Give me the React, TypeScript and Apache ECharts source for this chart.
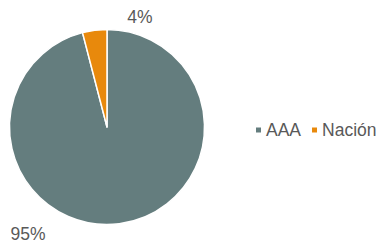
import React, { useEffect, useRef } from "react";
import * as echarts from "echarts";

const categories = ["AAA", "Nación"];
const values = [95, 4];
const colors = ["#647d7e", "#e8890c"];

const labelPos = [
  { x: 28, y: 234 },
  { x: 140, y: 17 },
];

export default function App() {
  const ref = useRef<HTMLDivElement>(null);
  useEffect(() => {
    const chart = echarts.init(ref.current!, null, { renderer: "svg" });
    chart.setOption({
      animation: false,
      legend: {
        data: categories,
        orient: "horizontal",
        left: 254,
        top: 121,
        width: 129,
        padding: 0,
        icon: "rect",
        itemWidth: 7,
        itemHeight: 7,
        itemGap: 9,
        textStyle: { fontSize: 17.5, color: "#595959", fontFamily: "Liberation Sans", padding: [0, 0, 0, -1] },
      },
      series: [
        {
          type: "pie",
          center: [107, 127],
          radius: 97.5,
          startAngle: 90,
          clockwise: true,
          itemStyle: { borderColor: "#ffffff", borderWidth: 1.5 },
          label: {
            show: true,
            position: "outside",
            formatter: "{c}%",
            fontSize: 17.5,
            color: "#595959",
            fontFamily: "Liberation Sans",
          },
          labelLine: { show: false },
          labelLayout: (p: any) => ({
            x: labelPos[p.dataIndex].x,
            y: labelPos[p.dataIndex].y,
            align: "center",
            verticalAlign: "middle",
          }),
          data: categories.map((name, i) => ({
            name,
            value: values[i],
            itemStyle: { color: colors[i] },
          })),
        },
      ],
    });
    return () => chart.dispose();
  }, []);
  return (
    <div
      ref={ref}
      style={{ position: "absolute", left: 0, top: 0, width: 383, height: 244 }}
    />
  );
}
